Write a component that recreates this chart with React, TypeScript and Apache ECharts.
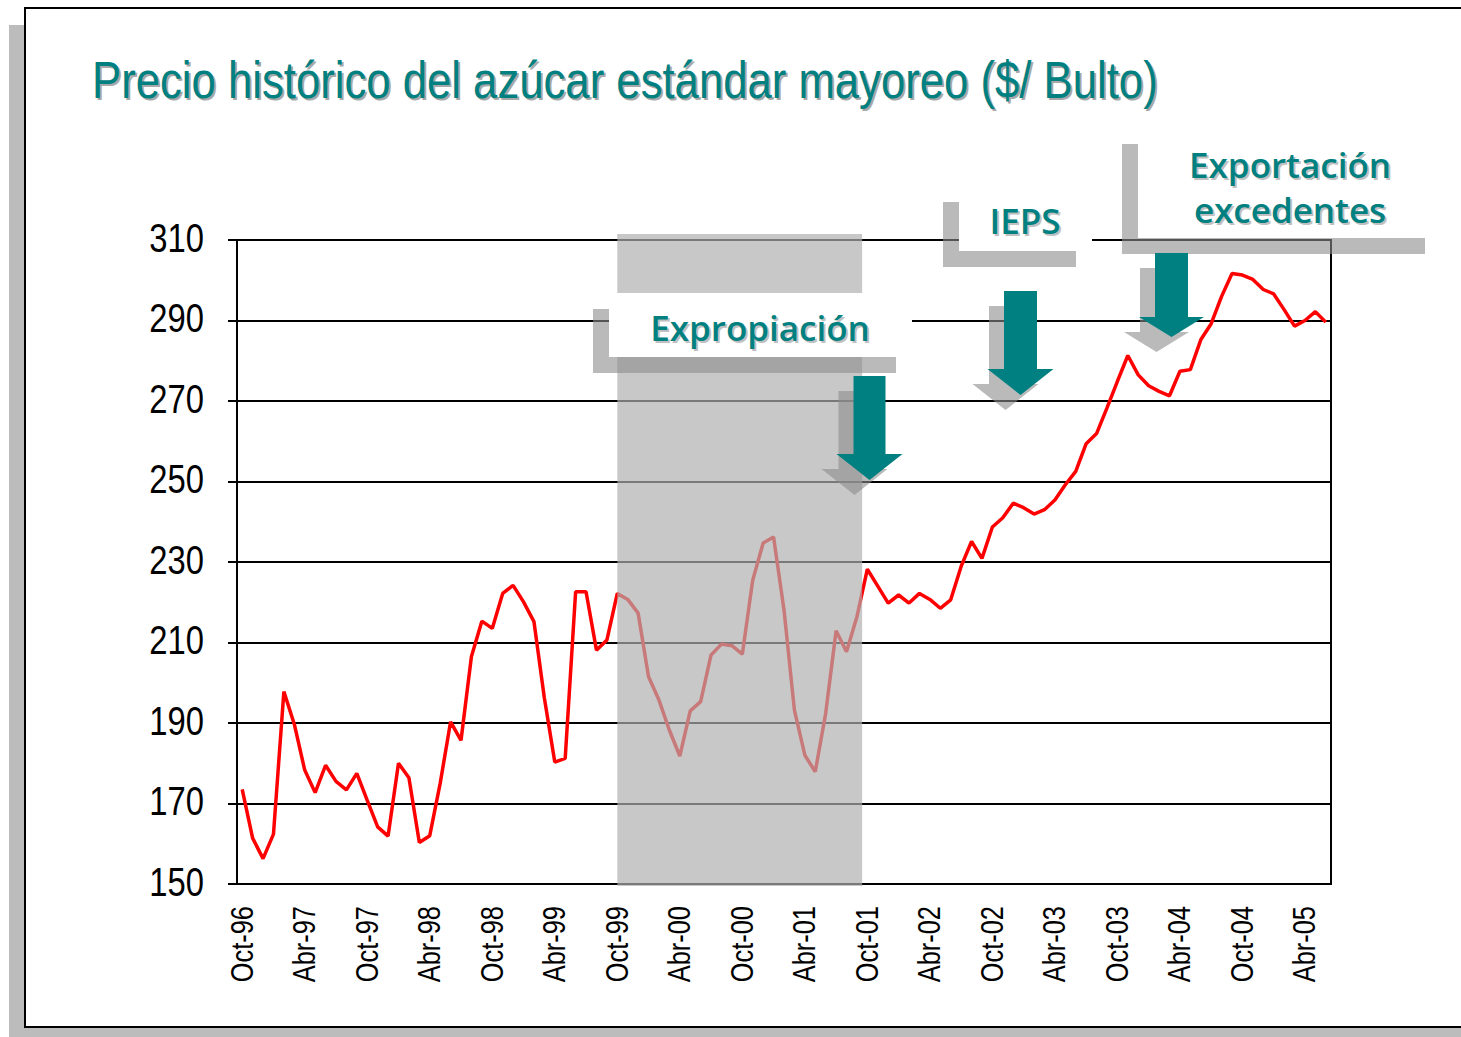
import React, { useEffect, useRef } from 'react';
import * as echarts from 'echarts';

const MONTHS = ['Ene', 'Feb', 'Mar', 'Abr', 'May', 'Jun', 'Jul', 'Ago', 'Sep', 'Oct', 'Nov', 'Dic'];
const START_YEAR = 1996;
const START_MONTH = 9; // Oct

const PRICES = [
  173.5, 161.4, 156.3, 162.4, 197.8, 189.7, 178.3, 172.7, 179.5, 175.5, 173.4, 177.5,
  170.8, 164.2, 161.9, 180.0, 176.4, 160.3, 162.0, 175.0, 190.3, 185.7, 206.5, 215.3,
  213.5, 222.2, 224.2, 220.1, 215.2, 196.2, 180.3, 181.2, 222.6, 222.6, 208.1, 210.6,
  222.2, 220.7, 217.3, 201.5, 195.7, 188.2, 181.8, 193.0, 195.3, 206.9, 209.6, 209.2,
  207.1, 225.5, 234.7, 236.2, 218.1, 193.2, 182.0, 177.9, 192.4, 212.9, 207.7, 216.4,
  228.2, 224.0, 219.8, 221.8, 219.8, 222.2, 220.7, 218.5, 220.6, 228.9, 235.1, 230.9,
  238.7, 241.0, 244.6, 243.5, 241.9, 243.0, 245.4, 249.2, 252.5, 259.4, 261.9, 268.3,
  274.9, 281.3, 276.5, 273.8, 272.4, 271.3, 277.4, 277.8, 285.2, 289.2, 296.0, 301.7,
  301.3, 300.2, 297.7, 296.6, 292.7, 288.6, 290.0, 292.2, 289.6,
];

const CATEGORIES = PRICES.map((_, i) => {
  const k = START_MONTH + i;
  const m = k % 12;
  const y = (START_YEAR + Math.floor(k / 12)) % 100;
  return `${MONTHS[m]}-${String(y).padStart(2, '0')}`;
});

const LABEL_EVERY = 6;
const Y_MIN = 150;
const Y_MAX = 310;
const Y_STEP = 20;
const Y_TICKS = [150, 170, 190, 210, 230, 250, 270, 290, 310];

const TITLE = 'Precio histórico del azúcar estándar mayoreo ($/ Bulto)';
const SHADE_FROM = 'Oct-99';
const SHADE_TO = 'Oct-01';
const LABEL_EXPROPIACION = 'Expropiación';
const LABEL_IEPS = 'IEPS';
const LABEL_EXPORT = ['Exportación', 'excedentes'];

const TEAL = '#008080';
const NARROW = "'Liberation Sans', Arial, sans-serif";
const NARROW_SCALE = 0.82;
const TITLE_SCALE = 0.84;
const ANNOT_FONT = "'Open Sans', 'DejaVu Sans', sans-serif";
const SHADOW = 'rgba(140,140,140,0.6)';
const FRAME_SHADOW = '#bcbcbc';

function textEl(
  text: string, x: number, y: number, size: number, family: string, weight: any,
  color: string, align: string, z: number, scaleX = 1, rotation = 0,
) {
  return {
    type: 'text',
    x,
    y,
    z,
    scaleX,
    rotation,
    silent: true,
    style: {
      text,
      fill: color,
      fontSize: size,
      fontFamily: family,
      fontWeight: weight,
      align,
      verticalAlign: 'middle',
      textAlign: align,
      textVerticalAlign: 'middle',
    },
  };
}

function shadowText(
  text: string, x: number, y: number, size: number, family: string, weight: any,
  align: string, shadowColor: string, z: number, scaleX = 1,
) {
  return [
    textEl(text, x + 2, y + 2, size, family, weight, shadowColor, align, z, scaleX),
    textEl(text, x, y, size, family, weight, TEAL, align, z + 1, scaleX),
  ];
}

function arrowPoints(cx: number, top: number, headTop: number, tip: number, sh: number, hh: number, dx = 0, dy = 0) {
  return [
    [cx - sh + dx, top + dy],
    [cx + sh + dx, top + dy],
    [cx + sh + dx, headTop + dy],
    [cx + hh + dx, headTop + dy],
    [cx + dx, tip + dy],
    [cx - hh + dx, headTop + dy],
    [cx - sh + dx, headTop + dy],
  ];
}

function arrow(cx: number, top: number, headTop: number, tip: number, sh: number, hh: number) {
  return [
    { type: 'polygon', z: 110, silent: true, shape: { points: arrowPoints(cx, top, headTop, tip, sh, hh, -15, 15) }, style: { fill: SHADOW } },
    { type: 'polygon', z: 111, silent: true, shape: { points: arrowPoints(cx, top, headTop, tip, sh, hh) }, style: { fill: TEAL } },
  ];
}

function box(x: number, y: number, w: number, h: number) {
  return [
    { type: 'rect', z: 104, silent: true, shape: { x: x - 16, y: y + 16, width: w, height: h }, style: { fill: SHADOW } },
    { type: 'rect', z: 105, silent: true, shape: { x, y, width: w, height: h }, style: { fill: '#ffffff' } },
  ];
}

export default function App() {
  const ref = useRef<HTMLDivElement>(null);

  useEffect(() => {
    if (!ref.current) return;
    const chart = echarts.init(ref.current, undefined, { renderer: 'svg' });
    chart.setOption({
      animation: false,
      backgroundColor: '#ffffff',
      grid: {
        left: 237,
        top: 240,
        right: 130,
        bottom: 153,
        show: true,
        borderColor: '#000',
        borderWidth: 2,
        backgroundColor: 'transparent',
      },
      xAxis: {
        type: 'category',
        data: CATEGORIES,
        boundaryGap: true,
        axisLine: { lineStyle: { color: '#000', width: 2 } },
        axisTick: { interval: LABEL_EVERY - 1, length: 8, lineStyle: { color: '#000', width: 2 } },
        axisLabel: { show: false, interval: LABEL_EVERY - 1 },
        splitLine: { show: false },
      },
      yAxis: {
        type: 'value',
        min: Y_MIN,
        max: Y_MAX,
        interval: Y_STEP,
        axisLine: { show: true, lineStyle: { color: '#000', width: 2 } },
        axisTick: { show: true, length: 9, lineStyle: { color: '#000', width: 2 } },
        axisLabel: { show: false },
        splitLine: { show: true, lineStyle: { color: '#000', width: 2 } },
      },
      series: [
        {
          type: 'line',
          data: PRICES,
          symbol: 'none',
          lineStyle: { color: '#ff0000', width: 3.5 },
          z: 3,
        },
      ],
    });

    const px = (c: string) => chart.convertToPixel({ xAxisIndex: 0 }, c) as number;
    const py = (v: number) => chart.convertToPixel({ yAxisIndex: 0 }, v) as number;

    const xl = px(SHADE_FROM);
    const toIdx = CATEGORIES.indexOf(SHADE_TO);
    const xr = (px(CATEGORIES[toIdx - 1]) + px(SHADE_TO)) / 2;
    const yTop = py(Y_MAX);
    const yBot = py(Y_MIN);

    const yLabels = Y_TICKS.map((v) =>
      textEl(String(v), 204, py(v) - 2, 40, NARROW, 'normal', '#000', 'right', 95, NARROW_SCALE),
    );
    const xLabels = CATEGORIES.filter((_, i) => i % LABEL_EVERY === 0).map((c) =>
      textEl(c, px(c) - 0.5, yBot + 22, 31, NARROW, 'normal', '#000', 'right', 95, NARROW_SCALE, Math.PI / 2),
    );

    const graphics: any[] = [
      // outer frame shadow and frame
      { type: 'rect', z: 90, silent: true, shape: { x: 9, y: 25, width: 15, height: 1012 }, style: { fill: FRAME_SHADOW } },
      { type: 'rect', z: 90, silent: true, shape: { x: 9, y: 1028, width: 1452, height: 9 }, style: { fill: FRAME_SHADOW } },
      { type: 'rect', z: 91, silent: true, shape: { x: 25, y: 8, width: 1460, height: 1019 }, style: { fill: 'none', stroke: '#000', lineWidth: 2 } },
      ...yLabels,
      ...xLabels,
      // shaded period
      { type: 'rect', z: 100, silent: true, shape: { x: xl, y: yTop - 6, width: xr - xl, height: yBot - yTop + 8 }, style: { fill: 'rgba(175,175,175,0.69)' } },
      ...box(609, 293, 303, 64),
      ...box(959, 186, 133, 65),
      ...box(1138, 128, 303, 110),
      ...shadowText(TITLE, 92, 80, 52, NARROW, 'normal', 'left', '#a8a8a8', 120, TITLE_SCALE),
      ...shadowText(LABEL_EXPROPIACION, 760, 327, 35, ANNOT_FONT, 600, 'center', '#c0c0c0', 106),
      ...shadowText(LABEL_IEPS, 1025, 220, 35, ANNOT_FONT, 600, 'center', '#c0c0c0', 106),
      ...shadowText(LABEL_EXPORT[0], 1290, 164, 35, ANNOT_FONT, 600, 'center', '#c0c0c0', 106),
      ...shadowText(LABEL_EXPORT[1], 1290, 209, 35, ANNOT_FONT, 600, 'center', '#c0c0c0', 106),
      ...arrow(869.5, 376, 454, 480, 16, 33),
      ...arrow(1020.5, 291, 369, 395, 16.5, 33),
      ...arrow(1171.5, 253, 317, 337, 16.5, 32.5),
    ];
    chart.setOption({ graphic: graphics });

    return () => chart.dispose();
  }, []);

  return (
    <div
      ref={ref}
      style={{ position: 'fixed', left: 0, top: 0, width: 1461, height: 1037, background: '#fff' }}
    />
  );
}
